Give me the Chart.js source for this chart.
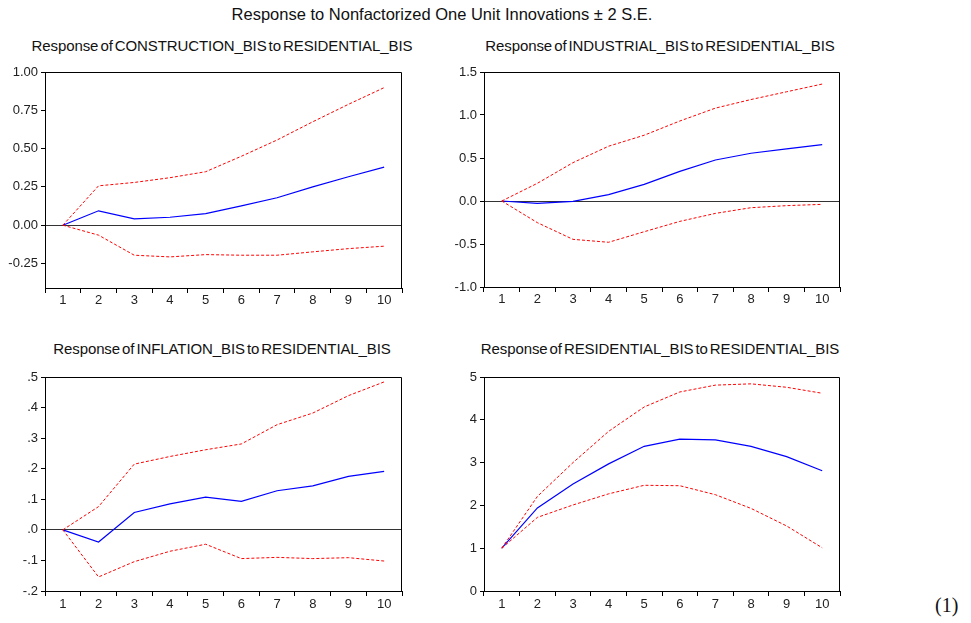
<!DOCTYPE html>
<html>
<head>
<meta charset="utf-8">
<script src="https://cdn.jsdelivr.net/npm/chart.js@4"></script>
<style>
  body { margin: 0; background: #fff; width: 971px; height: 623px; position: relative; overflow: hidden; }
  .ttl { position: absolute; width: 500px; text-align: center; font-family: 'Liberation Sans', Arial, sans-serif; color: #111; white-space: nowrap; }
  .main { font-size: 16.5px; line-height: 18px; }
  .sub { font-size: 15px; line-height: 17px; word-spacing: -2px; letter-spacing: -0.1px; }
  canvas { position: absolute; }
  #eq { position: absolute; left: 935px; top: 594px; font-family: 'Liberation Serif', 'Times New Roman', serif; font-size: 20px; color: #111; }
</style>
</head>
<body>
<div class="ttl main" style="left:192px; top:5px;">Response to Nonfactorized One Unit Innovations ± 2 S.E.</div>
<div class="ttl sub" style="left:-28px; top:37px;">Response of CONSTRUCTION_BIS to RESIDENTIAL_BIS</div>
<div class="ttl sub" style="left:410px; top:37px;">Response of INDUSTRIAL_BIS to RESIDENTIAL_BIS</div>
<div class="ttl sub" style="left:-28px; top:340px;">Response of INFLATION_BIS to RESIDENTIAL_BIS</div>
<div class="ttl sub" style="left:410px; top:340px;">Response of RESIDENTIAL_BIS to RESIDENTIAL_BIS</div>
<canvas id="c1" width="420" height="250" style="left:0px; top:60px;"></canvas>
<canvas id="c2" width="420" height="250" style="left:440px; top:60px;"></canvas>
<canvas id="c3" width="420" height="250" style="left:0px; top:360px;"></canvas>
<canvas id="c4" width="420" height="250" style="left:440px; top:360px;"></canvas>
<div id="eq">(1)</div>
<script>
// periods
const periods = ['1', '2', '3', '4', '5', '6', '7', '8', '9', '10'];

// CONSTRUCTION_BIS
const constrMean  = [0, 0.094, 0.041, 0.052, 0.076, 0.126, 0.179, 0.250, 0.316, 0.379];
const constrUpper = [0, 0.257, 0.279, 0.310, 0.349, 0.450, 0.556, 0.675, 0.789, 0.898];
const constrLower = [0, -0.065, -0.196, -0.207, -0.192, -0.196, -0.196, -0.174, -0.153, -0.137];
const constrTicks = [-0.25, 0, 0.25, 0.5, 0.75, 1.0];

// INDUSTRIAL_BIS
const indMean  = [0, -0.027, -0.004, 0.074, 0.194, 0.345, 0.477, 0.555, 0.606, 0.656];
const indUpper = [0, 0.206, 0.446, 0.637, 0.765, 0.930, 1.080, 1.180, 1.270, 1.360];
const indLower = [0, -0.252, -0.446, -0.480, -0.357, -0.237, -0.144, -0.078, -0.054, -0.039];
const indTicks = [-1.0, -0.5, 0, 0.5, 1.0, 1.5];

// INFLATION_BIS
const inflMean  = [0, -0.040, 0.057, 0.085, 0.107, 0.093, 0.128, 0.144, 0.175, 0.191];
const inflUpper = [0, 0.076, 0.215, 0.240, 0.262, 0.281, 0.344, 0.382, 0.439, 0.484];
const inflLower = [0, -0.154, -0.104, -0.070, -0.047, -0.094, -0.090, -0.094, -0.091, -0.102];
const inflTicks = [-0.2, -0.1, 0, 0.1, 0.2, 0.3, 0.4, 0.5];

// RESIDENTIAL_BIS
const resMean  = [1, 1.94, 2.50, 2.97, 3.38, 3.55, 3.53, 3.38, 3.14, 2.81];
const resUpper = [1, 2.21, 3.00, 3.73, 4.30, 4.65, 4.81, 4.84, 4.76, 4.62];
const resLower = [1, 1.72, 2.01, 2.27, 2.47, 2.46, 2.25, 1.93, 1.52, 1.01];
const resTicks = [0, 1, 2, 3, 4, 5];

// draws the top and right side of the frame
const frame = {
  id: 'frame',
  afterDraw(chart) {
    const a = chart.chartArea, c = chart.ctx;
    c.save();
    c.strokeStyle = '#000';
    c.lineWidth = 1;
    c.beginPath();
    c.moveTo(Math.round(a.left) + 0.5, Math.round(a.top) + 0.5);
    c.lineTo(Math.round(a.right) - 0.5, Math.round(a.top) + 0.5);
    c.lineTo(Math.round(a.right) - 0.5, Math.round(a.bottom));
    c.stroke();
    c.restore();
  }
};

function makeChart(id, mean, upper, lower, tickVals, fmt, ymin, ymax, box) {
  new Chart(document.getElementById(id), {
    type: 'line',
    data: {
      labels: periods,
      datasets: [
        { data: upper, borderColor: '#ff0000', borderWidth: 1, borderDash: [3, 2], pointRadius: 0, tension: 0 },
        { data: lower, borderColor: '#ff0000', borderWidth: 1, borderDash: [3, 2], pointRadius: 0, tension: 0 },
        { data: mean, borderColor: '#0000ff', borderWidth: 1.2, pointRadius: 0, tension: 0 }
      ]
    },
    options: {
      responsive: false,
      animation: false,
      layout: { padding: { top: box.top, right: box.right, left: 0, bottom: 0 } },
      plugins: {
        legend: { display: false },
        title: { display: false },
        tooltip: { enabled: false }
      },
      scales: {
        x: {
          offset: true,
          grid: { offset: true, drawOnChartArea: false, drawTicks: true, tickLength: 5, color: '#000' },
          border: { display: true, color: '#000' },
          ticks: { color: '#222', padding: box.xpad, maxRotation: 0, font: { family: 'Liberation Sans', size: 13 } },
          afterFit: s => { s.height = box.xh; }
        },
        y: {
          min: ymin,
          max: ymax,
          grid: {
            color: c => (c.tick && c.tick.value === 0 ? '#333' : 'rgba(0,0,0,0)'),
            tickColor: '#000',
            tickLength: 4,
            drawTicks: true
          },
          border: { display: true, color: '#000' },
          afterBuildTicks: s => { s.ticks = tickVals.map(v => ({ value: v })); },
          ticks: { color: '#222', padding: 3, font: { family: 'Liberation Sans', size: 13 }, callback: v => fmt(v) },
          afterFit: s => { s.width = box.yw; }
        }
      }
    },
    plugins: [frame]
  });
}

const fmt2 = v => v.toFixed(2);
const fmt1 = v => v.toFixed(1);
const fmtDot = v => v.toFixed(1).replace(/^(-?)0\./, '$1.');
const fmt0 = v => v.toFixed(0);

makeChart('c1', constrMean, constrUpper, constrLower, constrTicks, fmt2, -0.41, 1.0, { top: 12, right: 18, yw: 45, xh: 22, xpad: 0 });
makeChart('c2', indMean, indUpper, indLower, indTicks, fmt1, -1.0, 1.5, { top: 12, right: 20, yw: 44, xh: 23, xpad: 0 });
makeChart('c3', inflMean, inflUpper, inflLower, inflTicks, fmtDot, -0.2, 0.5, { top: 17, right: 18, yw: 45, xh: 19, xpad: 1 });
makeChart('c4', resMean, resUpper, resLower, resTicks, fmt0, 0, 5, { top: 17, right: 20, yw: 44, xh: 19, xpad: 1 });
</script>
</body>
</html>
